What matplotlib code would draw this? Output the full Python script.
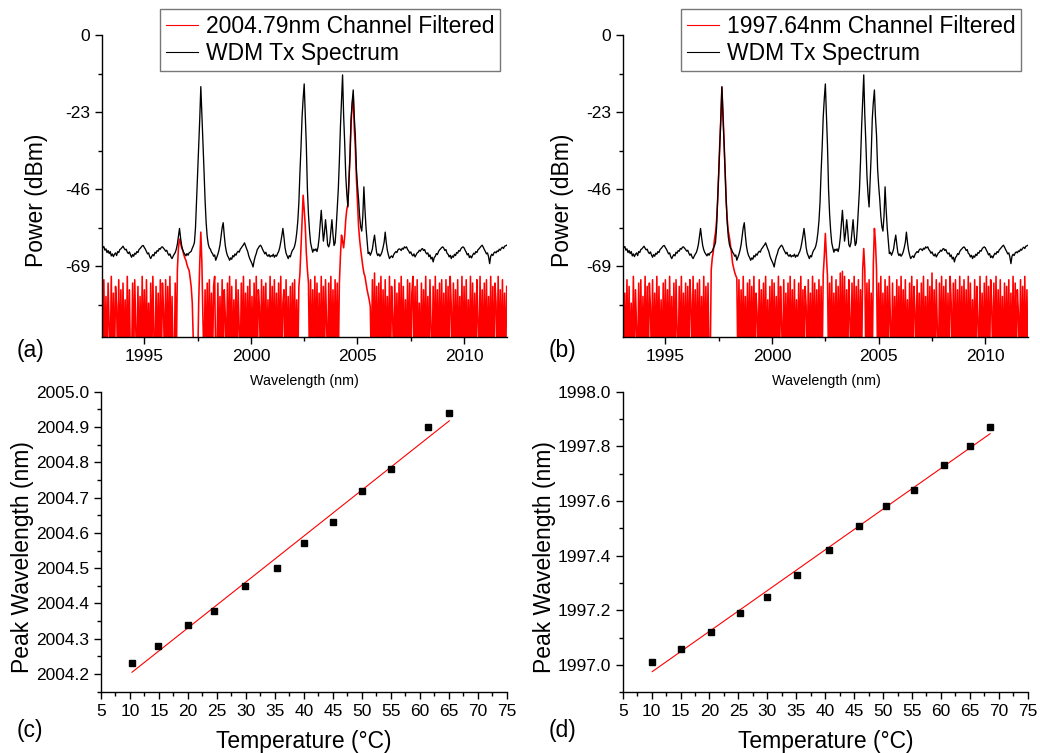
#!/usr/bin/env python3
"""
Four-panel figure: WDM Tx spectrum with one filtered channel (a, b) and
peak wavelength vs. temperature with linear fit (c, d).
"""

import numpy as np
import matplotlib
matplotlib.use("Agg")
import matplotlib.pyplot as plt
from matplotlib.ticker import MultipleLocator, FormatStrFormatter

plt.rcParams['font.family'] = ['Liberation Sans', 'DejaVu Sans']
plt.rcParams['axes.unicode_minus'] = False

# OSA trace, 0.05 nm sampling from 1993.00 to 2012.00 nm (one row = 1 nm)
wavelength_nm = np.linspace(1993.0, 2012.0, 381)

wdm_tx_dbm = [
    -62.7, -63.5, -63.1, -64.2, -63.8, -64.9, -64.3, -65.2, -64.6, -65.9, -65.3, -66.1, -65.4, -65.0, -65.8, -64.6, -64.9, -64.0, -63.8, -63.4,  # 1993
    -63.0, -63.6, -64.1, -63.9, -64.8, -65.2, -64.7, -65.6, -66.3, -65.5, -66.0, -65.1, -65.4, -64.6, -64.9, -64.0, -63.7, -63.3, -62.9, -62.8,  # 1994
    -63.4, -63.9, -64.6, -65.3, -65.0, -66.1, -66.7, -66.0, -65.5, -65.9, -64.8, -65.1, -64.3, -64.5, -63.7, -63.9, -63.3, -63.2, -63.6, -64.0,  # 1995
    -64.5, -64.2, -65.1, -65.7, -65.3, -66.2, -66.7, -66.0, -65.4, -64.9, -63.9, -62.4, -60.1, -57.7, -60.5, -62.8, -64.1, -64.9, -65.4, -65.9,  # 1996
    -65.2, -65.7, -65.0, -64.8, -64.5, -63.6, -62.9, -61.9, -57.5, -49.3, -41.5, -32.4, -25.0, -15.4, -23.5, -31.5, -40.5, -49.3, -56.0, -60.2,  # 1997
    -62.4, -63.5, -63.9, -64.8, -65.2, -66.0, -65.6, -67.2, -66.3, -65.4, -64.2, -62.6, -60.0, -57.5, -56.0, -59.8, -62.9, -64.7, -65.8, -66.4,  # 1998
    -67.2, -66.5, -66.9, -65.8, -66.2, -65.3, -65.7, -64.9, -64.5, -64.8, -63.9, -63.5, -63.0, -62.6, -62.0, -62.9, -63.8, -64.6, -65.9, -66.8,  # 1999
    -67.5, -68.2, -69.2, -67.4, -66.1, -65.2, -64.0, -63.5, -63.0, -62.7, -63.2, -64.0, -64.6, -65.3, -64.8, -65.7, -66.0, -65.5, -66.2, -65.8,  # 2000
    -66.0, -65.4, -66.3, -65.7, -66.0, -65.2, -64.6, -63.5, -61.8, -59.9, -57.7, -60.3, -63.4, -65.1, -65.9, -66.7, -65.8, -66.2, -65.0, -64.2,  # 2001
    -63.8, -63.0, -61.5, -59.0, -55.5, -50.0, -41.0, -33.5, -24.5, -19.0, -14.6, -24.0, -33.0, -46.0, -53.5, -58.5, -62.0, -63.5, -64.8, -63.9,  # 2002
    -64.3, -63.8, -64.6, -63.2, -60.5, -56.5, -52.3, -57.0, -61.5, -59.0, -55.1, -58.5, -62.6, -63.2, -62.0, -58.5, -55.1, -59.5, -62.8, -62.0,  # 2003
    -57.5, -52.0, -46.0, -37.5, -27.4, -20.0, -11.9, -24.0, -32.3, -42.0, -47.5, -51.3, -43.0, -35.5, -25.0, -20.0, -16.4, -24.5, -30.0, -40.0,  # 2004
    -45.0, -49.0, -54.0, -57.2, -58.5, -54.0, -45.3, -52.0, -57.5, -61.5, -65.2, -64.8, -65.7, -64.9, -63.8, -61.5, -59.7, -62.5, -65.0, -65.8,  # 2005
    -65.3, -66.0, -65.5, -64.7, -63.4, -61.8, -58.8, -61.9, -64.2, -65.6, -66.7, -66.2, -65.9, -66.4, -65.5, -65.0, -64.6, -64.9, -64.1, -63.8,  # 2006
    -63.9, -64.3, -63.6, -63.9, -63.2, -63.5, -63.2, -64.0, -64.4, -65.1, -64.7, -65.5, -65.9, -65.3, -66.2, -65.6, -65.0, -64.8, -64.2, -64.5,  # 2007
    -63.9, -63.7, -64.3, -64.0, -64.9, -65.3, -65.0, -66.1, -65.6, -66.8, -66.3, -67.7, -66.4, -66.0, -65.2, -65.5, -64.6, -64.1, -63.8, -63.4,  # 2008
    -63.2, -63.6, -64.3, -64.0, -65.1, -65.4, -66.2, -65.7, -66.7, -65.9, -66.3, -65.4, -65.8, -64.9, -65.1, -64.3, -64.5, -63.8, -63.4, -63.2,  # 2009
    -63.5, -64.2, -64.8, -65.6, -65.2, -66.4, -65.9, -66.5, -65.7, -65.1, -65.4, -64.6, -64.9, -64.1, -63.8, -63.4, -63.0, -62.7, -63.3, -64.0,  # 2010
    -64.6, -65.3, -65.0, -66.2, -68.2, -66.0, -65.4, -65.8, -65.0, -64.7, -65.0, -64.4, -64.6, -63.9, -64.2, -63.6, -63.3, -63.7, -63.0, -62.9,  # 2011
    -62.7,
]

# filtered traces: -99 means the reading fell off the bottom of the display
filtered_2004_dbm = [
    -75, -99, -73, -99, -78, -99, -74, -86, -99, -72, -99, -77, -99, -75, -81, -99, -73, -99, -76, -99,  # 1993
    -74, -99, -79, -99, -72, -99, -76, -99, -99, -74, -99, -73, -88, -99, -75, -99, -78, -99, -72, -99,  # 1994
    -76, -99, -73, -99, -80, -99, -74, -99, -72, -90, -99, -75, -99, -77, -99, -73, -99, -74, -82, -99,  # 1995
    -73, -99, -75, -99, -72, -99, -78, -99, -99, -74, -99, -70, -63.5, -60.9, -62, -63.5, -64.2, -65.5, -66.5, -67.2,  # 1996
    -68.5, -69.5, -70.2, -72.5, -75.2, -80, -92, -99, -99, -99, -99, -80, -68, -58.8, -68, -85, -99, -76, -99, -74,  # 1997
    -99, -73, -99, -77, -99, -75, -72, -99, -99, -74, -99, -78, -99, -73, -99, -76, -84, -99, -74, -99,  # 1998
    -72, -99, -75, -99, -79, -99, -73, -99, -76, -88, -99, -74, -99, -72, -99, -77, -99, -75, -99, -73,  # 1999
    -99, -78, -99, -74, -99, -72, -99, -76, -81, -99, -73, -99, -75, -99, -74, -99, -79, -99, -72, -99,  # 2000
    -75, -99, -73, -99, -77, -99, -74, -99, -72, -99, -80, -76, -99, -73, -99, -78, -99, -75, -99, -74,  # 2001
    -99, -73, -99, -79, -99, -75, -71, -63, -55, -47.8, -52, -57, -65, -70, -74, -99, -73, -99, -76, -99,  # 2002
    -72, -99, -74, -99, -77, -99, -72, -99, -75, -99, -73, -86, -99, -74, -99, -72, -99, -76, -99, -73,  # 2003
    -99, -74, -99, -74, -66, -59.7, -61.5, -63.5, -60, -55, -52, -50.5, -43, -36, -26, -21, -18.2, -28, -34, -43,  # 2004
    -50, -57, -61, -64, -66.5, -69, -71, -72, -74, -76, -77.5, -79, -81, -99, -73, -99, -71, -99, -75, -99,  # 2005
    -74, -99, -72, -99, -76, -99, -73, -99, -78, -99, -72, -99, -75, -84, -99, -73, -99, -77, -99, -74,  # 2006
    -99, -72, -99, -75, -99, -79, -99, -73, -99, -74, -99, -77, -72, -99, -75, -99, -73, -99, -80, -99,  # 2007
    -74, -99, -76, -99, -72, -99, -78, -99, -73, -87, -99, -75, -99, -72, -99, -76, -99, -74, -99, -73,  # 2008
    -99, -77, -99, -73, -99, -75, -99, -72, -81, -99, -74, -99, -76, -99, -73, -99, -78, -99, -72, -99,  # 2009
    -75, -99, -73, -99, -79, -99, -72, -99, -74, -99, -77, -99, -73, -85, -99, -72, -99, -76, -99, -74,  # 2010
    -99, -73, -99, -78, -99, -72, -99, -75, -99, -74, -80, -99, -72, -99, -76, -99, -73, -99, -77, -99,  # 2011
    -75,
]

filtered_1997_dbm = [
    -74, -99, -77, -99, -73, -99, -75, -99, -80, -99, -72, -99, -76, -87, -99, -74, -99, -73, -99, -78,  # 1993
    -99, -72, -99, -75, -99, -74, -81, -99, -73, -99, -77, -99, -72, -99, -75, -99, -79, -99, -74, -99,  # 1994
    -73, -99, -76, -99, -72, -99, -78, -99, -74, -99, -73, -88, -99, -75, -99, -72, -99, -77, -99, -74,  # 1995
    -99, -75, -99, -73, -80, -99, -72, -99, -76, -99, -74, -99, -73, -99, -78, -99, -72, -99, -75, -99,  # 1996
    -74, -99, -99, -70, -66.5, -64.5, -61, -59, -55.5, -49.3, -41.5, -32.4, -25, -15.6, -23.5, -31.5, -40.5, -49.3, -55, -58.5,  # 1997
    -60.2, -62.5, -65, -68, -69.5, -70.8, -71.8, -72.5, -99, -73, -99, -76, -99, -72, -99, -78, -99, -74, -99, -73,  # 1998
    -99, -75, -99, -72, -99, -77, -83, -99, -73, -99, -76, -99, -74, -99, -72, -99, -79, -99, -75, -99,  # 1999
    -73, -99, -74, -99, -78, -99, -72, -99, -75, -86, -99, -73, -99, -77, -99, -74, -99, -72, -99, -76,  # 2000
    -99, -73, -99, -79, -99, -74, -99, -72, -99, -76, -99, -75, -81, -99, -73, -99, -77, -99, -72, -99,  # 2001
    -74, -99, -76, -99, -73, -99, -75, -99, -71.5, -66, -59.2, -66, -72, -99, -74, -99, -72, -99, -77, -99,  # 2002
    -73, -99, -75, -99, -71, -99, -70.5, -99, -72, -99, -76, -99, -73, -84, -99, -74, -99, -72, -99, -75,  # 2003
    -99, -73, -99, -76, -99, -70, -63.7, -70, -99, -74, -99, -73, -99, -77, -99, -68, -57.7, -62, -70, -99,  # 2004
    -74, -99, -72, -99, -77, -99, -73, -99, -75, -99, -72, -86, -99, -74, -99, -78, -99, -73, -99, -75,  # 2005
    -99, -72, -99, -76, -99, -73, -99, -79, -99, -74, -99, -72, -99, -75, -82, -99, -73, -99, -77, -99,  # 2006
    -74, -99, -72, -99, -78, -99, -73, -99, -75, -99, -71, -99, -76, -99, -73, -88, -99, -74, -99, -72,  # 2007
    -99, -75, -99, -73, -99, -77, -99, -72, -80, -99, -74, -99, -73, -99, -76, -99, -72, -99, -75, -99,  # 2008
    -73, -99, -76, -99, -72, -99, -74, -99, -79, -99, -73, -99, -75, -85, -99, -72, -99, -77, -99, -74,  # 2009
    -99, -72, -99, -75, -99, -73, -81, -99, -74, -99, -72, -99, -76, -99, -73, -99, -78, -99, -74, -99,  # 2010
    -75, -99, -73, -99, -77, -99, -72, -99, -74, -99, -76, -83, -99, -73, -99, -75, -99, -72, -99, -76,  # 2011
    -99,
]

# peak wavelength vs temperature
temp_2004 = [10.35, 14.8, 20.0, 24.5, 29.9, 35.3, 40.0, 45.0, 50.0, 55.1, 61.4, 65.1]
peak_2004 = [2004.23, 2004.28, 2004.34, 2004.38, 2004.45, 2004.50, 2004.57, 2004.63,
             2004.72, 2004.78, 2004.90, 2004.94]
temp_1997 = [10.1, 15.0, 20.2, 25.2, 30.0, 35.2, 40.7, 45.8, 50.5, 55.4, 60.5, 65.1, 68.5]
peak_1997 = [1997.01, 1997.06, 1997.12, 1997.19, 1997.25, 1997.33, 1997.42, 1997.51,
             1997.58, 1997.64, 1997.73, 1997.80, 1997.87]

W, H = 1040, 753


def px_rect(x0, y0, x1, y1):
    """pixel box (top-left origin) -> figure fraction rect"""
    return [x0 / W, 1 - y1 / H, (x1 - x0) / W, (y1 - y0) / H]


def style_axes(ax):
    for side in ('top', 'right'):
        ax.spines[side].set_visible(False)
    for side in ('left', 'bottom'):
        ax.spines[side].set_linewidth(1.0)
    ax.tick_params(which='both', direction='out', width=1.0, labelsize=12.5,
                   top=False, right=False)
    ax.tick_params(which='major', length=5)
    ax.tick_params(which='minor', length=3)


def spectrum_panel(fig, rect, filtered, label):
    ax = fig.add_axes(rect)
    red, = ax.plot(wavelength_nm, filtered, color='#ff0000', lw=1.15, label=label)
    blk, = ax.plot(wavelength_nm, wdm_tx_dbm, color='black', lw=0.95,
                   label='WDM Tx Spectrum')
    ax.set_xlim(1993, 2012)
    ax.set_ylim(-90, 0)
    ax.xaxis.set_major_locator(MultipleLocator(5))
    ax.xaxis.set_minor_locator(MultipleLocator(2.5))
    ax.yaxis.set_major_locator(MultipleLocator(23))
    ax.yaxis.set_minor_locator(MultipleLocator(11.5))
    style_axes(ax)
    return ax, [red, blk]


def fit_panel(fig, rect, temps, peaks, ylo, yhi, ymaj):
    ax = fig.add_axes(rect)
    t = np.array(temps)
    p = np.array(peaks)
    slope, icpt = np.polyfit(t, p, 1)
    tt = np.array([t.min(), t.max()])
    ax.plot(tt, slope * tt + icpt, color='#ff0000', lw=0.8)
    ax.plot(t, p, ls='none', marker='s', ms=4.5, color='black')
    ax.set_xlim(5, 75)
    ax.set_ylim(ylo, yhi)
    ax.xaxis.set_major_locator(MultipleLocator(5))
    ax.xaxis.set_minor_locator(MultipleLocator(2.5))
    ax.yaxis.set_major_locator(MultipleLocator(ymaj))
    ax.yaxis.set_minor_locator(MultipleLocator(ymaj / 2))
    ax.yaxis.set_major_formatter(FormatStrFormatter('%.1f'))
    style_axes(ax)
    return ax


def main():
    fig = plt.figure(figsize=(W / 100, H / 100), dpi=100)

    ax_a, h_a = spectrum_panel(fig, px_rect(101.7, 35, 506.7, 336.7),
                               filtered_2004_dbm, '2004.79nm Channel Filtered')
    ax_b, h_b = spectrum_panel(fig, px_rect(622.7, 35, 1028, 336.7),
                               filtered_1997_dbm, '1997.64nm Channel Filtered')

    for ax, handles, right in ((ax_a, h_a, 500), (ax_b, h_b, 1021)):
        leg = ax.legend(handles=handles, loc='upper right',
                        bbox_to_anchor=(right / W, 1 - 9 / H),
                        bbox_transform=fig.transFigure, fontsize=16.5,
                        frameon=True, fancybox=False, borderpad=0.25,
                        labelspacing=0.2, handlelength=1.4, handletextpad=0.35,
                        borderaxespad=0)
        leg.get_frame().set_edgecolor('#555555')
        leg.get_frame().set_linewidth(1.0)
        for ln in leg.get_lines():
            ln.set_linewidth(0.8)

    fit_panel(fig, px_rect(101, 391.7, 506.7, 691.7), temp_2004, peak_2004,
              2004.15, 2005.0, 0.1)
    fit_panel(fig, px_rect(622.7, 391.7, 1027.7, 692.3), temp_1997, peak_1997,
              1996.9, 1998.0, 0.2)

    # axis titles and panel letters placed as in the original layout
    big = 16.5
    for x in (36, 563):
        fig.text(x / W, 1 - 200 / H, 'Power (dBm)', rotation=90, fontsize=big,
                 ha='center', va='center')
    for x in (304.5, 826):
        fig.text(x / W, 1 - 381.5 / H, 'Wavelength (nm)', fontsize=10.3,
                 ha='center', va='center')
    for x in (22.7, 544):
        fig.text(x / W, 1 - 556.7 / H, 'Peak Wavelength (nm)', rotation=90,
                 fontsize=big, ha='center', va='center')
    for x in (304, 826):
        fig.text(x / W, 1 - 741.5 / H, 'Temperature (\u00b0C)', fontsize=big,
                 ha='center', va='center')
    for s, x, y in (('(a)', 31, 351), ('(b)', 562.5, 351),
                    ('(c)', 30, 730.5), ('(d)', 562.5, 730.5)):
        fig.text(x / W, 1 - y / H, s, fontsize=big, ha='center', va='center')

    fig.savefig('out.png', dpi=100)


if __name__ == "__main__":
    main()
